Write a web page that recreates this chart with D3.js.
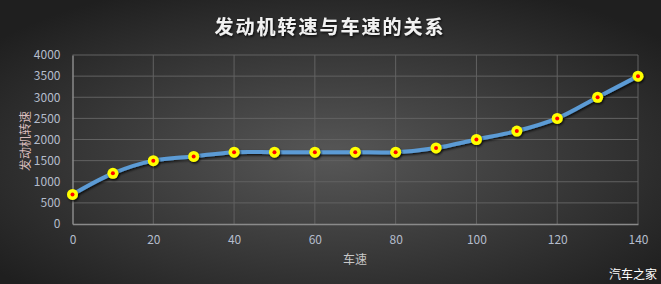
<!DOCTYPE html>
<html lang="zh">
<head>
<meta charset="utf-8">
<script src="https://d3js.org/d3.v7.min.js"></script>
<style>
  body { margin: 0; background: #2a2a2a; }
  text { font-family: "Noto Sans CJK SC", "DejaVu Sans", sans-serif; }
</style>
</head>
<body>
<script>
// data
const speeds = [0, 10, 20, 30, 40, 50, 60, 70, 80, 90, 100, 110, 120, 130, 140];
const rpm = [700, 1200, 1500, 1600, 1700, 1700, 1700, 1700, 1700, 1800, 2000, 2200, 2500, 3000, 3500];
const xTicks = [0, 20, 40, 60, 80, 100, 120, 140];
const yTicks = [0, 500, 1000, 1500, 2000, 2500, 3000, 3500, 4000];

const w = 661, h = 284;
const svg = d3.select("body").append("svg").attr("width", w).attr("height", h);

// background
const defs = svg.append("defs");
const grad = defs.append("radialGradient").attr("id", "bg")
  .attr("cx", "50%").attr("cy", "55%").attr("r", "65%");
grad.append("stop").attr("offset", "0%").attr("stop-color", "#575757");
grad.append("stop").attr("offset", "100%").attr("stop-color", "#1f1f1f");
svg.append("rect").attr("width", w).attr("height", h).attr("fill", "url(#bg)");

const shadow = defs.append("filter").attr("id", "sh").attr("x", "-10%").attr("y", "-30%").attr("width", "130%").attr("height", "160%");
shadow.append("feDropShadow").attr("dx", 1).attr("dy", 1.5).attr("stdDeviation", 1.2).attr("flood-color", "#000").attr("flood-opacity", 0.8);

const x = d3.scaleLinear().domain([0, 140]).range([72.5, 638]);
const y = d3.scaleLinear().domain([0, 4000]).range([224, 55]);

// grid
svg.append("g").selectAll("line").data(yTicks.slice(1)).join("line")
  .attr("x1", x(0)).attr("x2", x(140))
  .attr("y1", d => y(d)).attr("y2", d => y(d))
  .attr("stroke", "#626262").attr("stroke-width", 1);
svg.append("g").selectAll("line").data(xTicks.slice(1)).join("line")
  .attr("x1", d => x(d)).attr("x2", d => x(d))
  .attr("y1", y(0)).attr("y2", y(4000))
  .attr("stroke", "#626262").attr("stroke-width", 1);

// axes
const xAxis = svg.append("g").attr("transform", `translate(0,${y(0)})`)
  .call(d3.axisBottom(x).tickValues(xTicks).tickFormat(d3.format("d")).tickSize(0).tickPadding(11));
const yAxis = svg.append("g").attr("transform", `translate(${x(0)},0)`)
  .call(d3.axisLeft(y).tickValues(yTicks).tickFormat(d3.format("d")).tickSize(0).tickPadding(12));
[xAxis, yAxis].forEach(g => {
  g.select(".domain").attr("stroke", "#8a8a8a").attr("stroke-width", 1.5);
  g.selectAll("text").attr("fill", "#b4bccb").attr("font-size", 12)
    .attr("font-family", "'Liberation Sans', Arial, sans-serif");
});

// line
const pts = speeds.map((s, i) => [s, rpm[i]]);
const line = d3.line().x(d => x(d[0])).y(d => y(d[1])).curve(d3.curveCatmullRom.alpha(0.5));
svg.append("path").datum(pts).attr("d", line)
  .attr("fill", "none").attr("stroke", "#5b9bd5").attr("stroke-width", 4)
  .attr("stroke-linejoin", "round").attr("filter", "url(#sh)");

// markers
const mk = svg.append("g").selectAll("g").data(pts).join("g")
  .attr("transform", d => `translate(${x(d[0])},${y(d[1])})`);
mk.append("circle").attr("r", 5.5).attr("fill", "#ffff00").attr("filter", "url(#sh)");
mk.append("circle").attr("r", 2).attr("fill", "#ff0000");

// titles
svg.append("text").attr("x", 330).attr("y", 34).attr("text-anchor", "middle")
  .attr("font-size", 19).attr("font-weight", "bold").attr("fill", "#f2f2f2")
  .attr("letter-spacing", 2).attr("filter", "url(#sh)")
  .text("发动机转速与车速的关系");
svg.append("text").attr("x", 355).attr("y", 264).attr("text-anchor", "middle")
  .attr("font-size", 12).attr("fill", "#c8c8c8").text("车速");
svg.append("text").attr("transform", "translate(30,141) rotate(-90)").attr("text-anchor", "middle")
  .attr("font-size", 12).attr("fill", "#d9bcbc").text("发动机转速");
svg.append("text").attr("x", 657).attr("y", 279).attr("text-anchor", "end")
  .attr("font-size", 12).attr("fill", "#ffffff").text("汽车之家");
</script>
</body>
</html>
